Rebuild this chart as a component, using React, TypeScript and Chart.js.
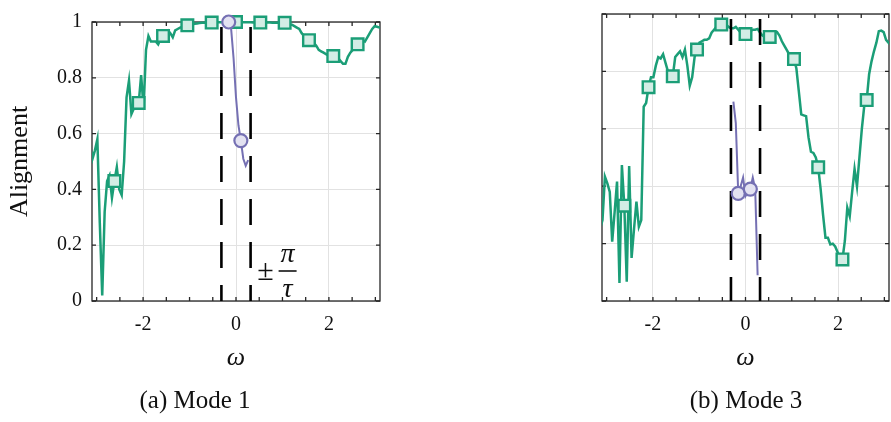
import { useEffect, useRef } from 'react';
import { Chart, registerables } from 'chart.js';

Chart.register(...registerables);

// ---- data ----
const OMEGA_START = -Math.PI;
const OMEGA_STEP = Math.PI / 60;
const X_LIMIT = 3.1;
const CUTOFF = Math.PI / 10; // ±π/τ with τ = 10

const X_MAJOR_TICKS = [-2, 0, 2];
const X_MINOR_TICKS = [-3, -2.5, -1.5, -1, -0.5, 0.5, 1, 1.5, 2.5, 3];
const Y_TICKS = [0, 0.2, 0.4, 0.6, 0.8, 1];
const Y_TICK_LABELS = ['0', '0.2', '0.4', '0.6', '0.8', '1'];

const MODE1_GREEN = [
  0.56, 0.51, 0.54, 0.58, 0.28, 0.02, 0.32, 0.43, 0.45, 0.37,
  0.43, 0.48, 0.40, 0.38, 0.50, 0.73, 0.79, 0.67, 0.69, 0.70,
  0.71, 0.81, 0.69, 0.90, 0.95, 0.93, 0.93, 0.93, 0.92, 0.94,
  0.95, 0.965, 0.97, 0.96, 0.945, 0.97, 0.975, 0.98, 0.983, 0.985,
  0.988, 0.99, 0.992, 0.994, 0.995, 0.996, 0.997, 0.997, 0.998, 0.998,
  0.998, 0.999, 0.999, 0.999, 0.999, 0.999, 0.999, 0.999, 1.0, 1.0,
  1.0, 1.0, 0.999, 0.999, 0.999, 0.999, 0.999, 0.998, 0.998, 0.998,
  0.998, 0.998, 0.998, 0.998, 0.998, 0.997, 0.997, 0.997, 0.997, 0.997,
  0.997, 0.993, 0.99, 0.99, 0.985, 0.98, 0.975, 0.96, 0.95, 0.94,
  0.935, 0.93, 0.925, 0.915, 0.90, 0.895, 0.89, 0.885, 0.88, 0.88,
  0.878, 0.877, 0.87, 0.86, 0.85, 0.85, 0.875, 0.89, 0.90, 0.91,
  0.92, 0.93, 0.935, 0.93, 0.945, 0.96, 0.975, 0.985, 0.983, 0.98,
  0.98,
];
const MODE1_PURPLE_START = 57;
const MODE1_PURPLE = [1.0, 0.975, 0.87, 0.73, 0.63, 0.575, 0.51, 0.485, 0.505];

const MODE3_GREEN = [
  0.25, 0.282, 0.433, 0.41, 0.38, 0.207, 0.31, 0.416, 0.063, 0.474,
  0.332, 0.067, 0.47, 0.15, 0.25, 0.346, 0.259, 0.282, 0.677, 0.69,
  0.745, 0.78, 0.78, 0.82, 0.85, 0.845, 0.86, 0.83, 0.80, 0.79,
  0.783, 0.85, 0.86, 0.87, 0.85, 0.876, 0.82, 0.75, 0.78, 0.85,
  0.876, 0.90, 0.905, 0.91, 0.91, 0.915, 0.935, 0.945, 0.955, 0.962,
  0.963, 0.963, 0.963, 0.955, 0.95, 0.95, 0.955, 0.945, 0.935, 0.93,
  0.93, 0.935, 0.94, 0.945, 0.945, 0.948, 0.935, 0.925, 0.92, 0.92,
  0.92, 0.93, 0.937, 0.937, 0.925, 0.905, 0.89, 0.875, 0.86, 0.85,
  0.843, 0.81, 0.73, 0.65, 0.647, 0.644, 0.57, 0.52, 0.516, 0.50,
  0.466, 0.39, 0.30, 0.22, 0.22, 0.197, 0.20, 0.19, 0.17, 0.15,
  0.145, 0.21, 0.325, 0.295, 0.38, 0.46, 0.40, 0.50, 0.60, 0.68,
  0.70, 0.79, 0.835, 0.87, 0.90, 0.94, 0.942, 0.937, 0.91, 0.90,
  0.89,
];
const MODE3_PURPLE_START = 55;
const MODE3_PURPLE = [0.695, 0.62, 0.375, 0.40, 0.43, 0.365, 0.38, 0.39, 0.43, 0.39, 0.09];

const GREEN_MARKER_EVERY = 10;
const PURPLE_MARKER_FIRST = 57;
const PURPLE_MARKER_EVERY = 5;

// ---- style ----
const FONT = '"Liberation Serif", "Times New Roman", serif';
const GREEN = '#1b9e77';
const GREEN_FILL = '#d3ede5';
const PURPLE = '#7570b3';
const PURPLE_FILL = '#e3e2f1';
const AXIS = '#262626';
const GRID = '#e2e2e2';
const TEXT = '#111111';
const H = 422;
const AREA_TOP = 14;
const AREA_BOTTOM = 301;

const toPoints = (vals: number[], start: number) =>
  vals.map((y, k) => ({ x: OMEGA_START + (start + k) * OMEGA_STEP, y }));

type PanelProps = {
  green: number[];
  purple: number[];
  purpleStart: number;
  caption: string;
  showYLabels: boolean;
  left: number;
  width: number;
  areaLeft: number;
  areaRight: number;
  captionX: number;
  annotate: boolean;
};

function Panel(p: PanelProps) {
  const ref = useRef<HTMLCanvasElement | null>(null);

  useEffect(() => {
    if (!ref.current) return;

    const framePlugin = {
      id: 'frame',
      beforeDatasetsDraw(chart: any) {
        const { ctx, chartArea: a } = chart;
        const xs = chart.scales.x;
        const ys = chart.scales.y;
        ctx.save();
        ctx.strokeStyle = AXIS;
        ctx.lineWidth = 1.3;
        ctx.strokeRect(a.left, a.top, a.right - a.left, a.bottom - a.top);
        ctx.beginPath();
        const tl = 4;
        [...X_MAJOR_TICKS, ...X_MINOR_TICKS].forEach((v) => {
          const px = xs.getPixelForValue(v);
          ctx.moveTo(px, a.bottom);
          ctx.lineTo(px, a.bottom - tl);
          ctx.moveTo(px, a.top);
          ctx.lineTo(px, a.top + tl);
        });
        Y_TICKS.forEach((v) => {
          const py = ys.getPixelForValue(v);
          ctx.moveTo(a.left, py);
          ctx.lineTo(a.left + tl, py);
          ctx.moveTo(a.right, py);
          ctx.lineTo(a.right - tl, py);
        });
        ctx.stroke();
        ctx.restore();
      },
      afterDraw(chart: any) {
        const { ctx, chartArea: a } = chart;
        const xs = chart.scales.x;
        ctx.save();
        ctx.fillStyle = TEXT;
        ctx.textAlign = 'center';
        ctx.textBaseline = 'alphabetic';
        ctx.font = `italic 26px ${FONT}`;
        ctx.fillText('ω', xs.getPixelForValue(0), 365);
        ctx.font = `25px ${FONT}`;
        ctx.fillText(p.caption, p.captionX, 408);
        if (p.annotate) {
          const cx = xs.getPixelForValue(CUTOFF);
          ctx.font = `30px ${FONT}`;
          ctx.fillText('±', cx + 15, a.bottom - 21);
          ctx.font = `italic 28px ${FONT}`;
          ctx.fillText('π', cx + 37, a.bottom - 39);
          ctx.fillText('τ', cx + 37, a.bottom - 4);
          ctx.strokeStyle = TEXT;
          ctx.lineWidth = 1.6;
          ctx.beginPath();
          ctx.moveTo(cx + 28, a.bottom - 30);
          ctx.lineTo(cx + 46, a.bottom - 30);
          ctx.stroke();
        }
        ctx.restore();
      },
    };

    const dashed = (x: number) => ({
      data: [
        { x, y: 1 },
        { x, y: 0 },
      ],
      borderColor: '#000000',
      borderWidth: 2.6,
      borderDash: [26, 17],
      borderDashOffset: 38,
      pointRadius: 0,
      order: 2,
    });

    const chart = new Chart(ref.current, {
      type: 'line',
      data: {
        datasets: [
          {
            data: toPoints(p.purple, p.purpleStart),
            borderColor: PURPLE,
            borderWidth: 2,
            pointStyle: 'circle',
            pointRadius: (c: any) => {
              const gi = p.purpleStart + c.dataIndex;
              return gi >= PURPLE_MARKER_FIRST && (gi - PURPLE_MARKER_FIRST) % PURPLE_MARKER_EVERY === 0 ? 6.5 : 0;
            },
            pointBorderWidth: 2.2,
            pointBackgroundColor: PURPLE_FILL,
            pointBorderColor: PURPLE,
            clip: { left: 0, right: 0, top: 10, bottom: 10 },
            order: 1,
          } as any,
          dashed(-CUTOFF) as any,
          dashed(CUTOFF) as any,
          {
            data: toPoints(p.green, 0),
            borderColor: GREEN,
            borderWidth: 2.5,
            pointStyle: 'rect',
            pointRadius: (c: any) =>
              c.dataIndex > 0 && c.dataIndex < p.green.length - 1 && c.dataIndex % GREEN_MARKER_EVERY === 0 ? 8.2 : 0,
            pointBorderWidth: 2.4,
            pointBackgroundColor: GREEN_FILL,
            pointBorderColor: GREEN,
            clip: { left: 0, right: 0, top: 10, bottom: 10 },
            order: 3,
          } as any,
        ],
      },
      options: {
        animation: false,
        responsive: false,
        events: [],
        layout: { padding: { top: AREA_TOP, left: 0, right: p.width - p.areaRight, bottom: 0 } },
        plugins: { legend: { display: false }, tooltip: { enabled: false } },
        elements: { line: { tension: 0 } },
        scales: {
          x: {
            type: 'linear',
            min: -X_LIMIT,
            max: X_LIMIT,
            afterBuildTicks: (s: any) => {
              s.ticks = X_MAJOR_TICKS.map((v) => ({ value: v }));
            },
            afterFit: (s: any) => {
              s.height = H - AREA_BOTTOM;
            },
            ticks: {
              autoSkip: false,
              maxRotation: 0,
              padding: 12,
              color: TEXT,
              font: { family: FONT, size: 20 },
              callback: (v: any) => String(v),
            },
            grid: { color: GRID, lineWidth: 1, drawTicks: false },
            border: { display: false },
          },
          y: {
            type: 'linear',
            min: 0,
            max: 1,
            afterBuildTicks: (s: any) => {
              s.ticks = Y_TICKS.map((v) => ({ value: v }));
            },
            afterFit: (s: any) => {
              s.width = p.areaLeft;
            },
            ticks: {
              display: p.showYLabels,
              padding: 10,
              color: TEXT,
              font: { family: FONT, size: 20 },
              callback: (_v: any, i: number) => Y_TICK_LABELS[i],
            },
            title: {
              display: p.showYLabels,
              text: 'Alignment',
              color: TEXT,
              font: { family: FONT, size: 26 },
              padding: { top: 5, bottom: 0 },
            },
            grid: { color: GRID, lineWidth: 1, drawTicks: false },
            border: { display: false },
          },
        },
      } as any,
      plugins: [framePlugin],
    });

    return () => chart.destroy();
  }, []);

  return (
    <canvas
      ref={ref}
      width={p.width}
      height={H}
      style={{ position: 'absolute', left: p.left, top: 0, width: p.width, height: H }}
    />
  );
}

export default function App() {
  return (
    <div style={{ position: 'absolute', left: 0, top: 0, width: 891, height: H, background: '#ffffff' }}>
      <Panel
        green={MODE1_GREEN}
        purple={MODE1_PURPLE}
        purpleStart={MODE1_PURPLE_START}
        caption="(a) Mode 1"
        showYLabels={true}
        left={0}
        width={445}
        areaLeft={92}
        areaRight={380}
        captionX={195}
        annotate={true}
      />
      <Panel
        green={MODE3_GREEN}
        purple={MODE3_PURPLE}
        purpleStart={MODE3_PURPLE_START}
        caption="(b) Mode 3"
        showYLabels={false}
        left={445}
        width={446}
        areaLeft={157}
        areaRight={444}
        captionX={301}
        annotate={false}
      />
    </div>
  );
}
